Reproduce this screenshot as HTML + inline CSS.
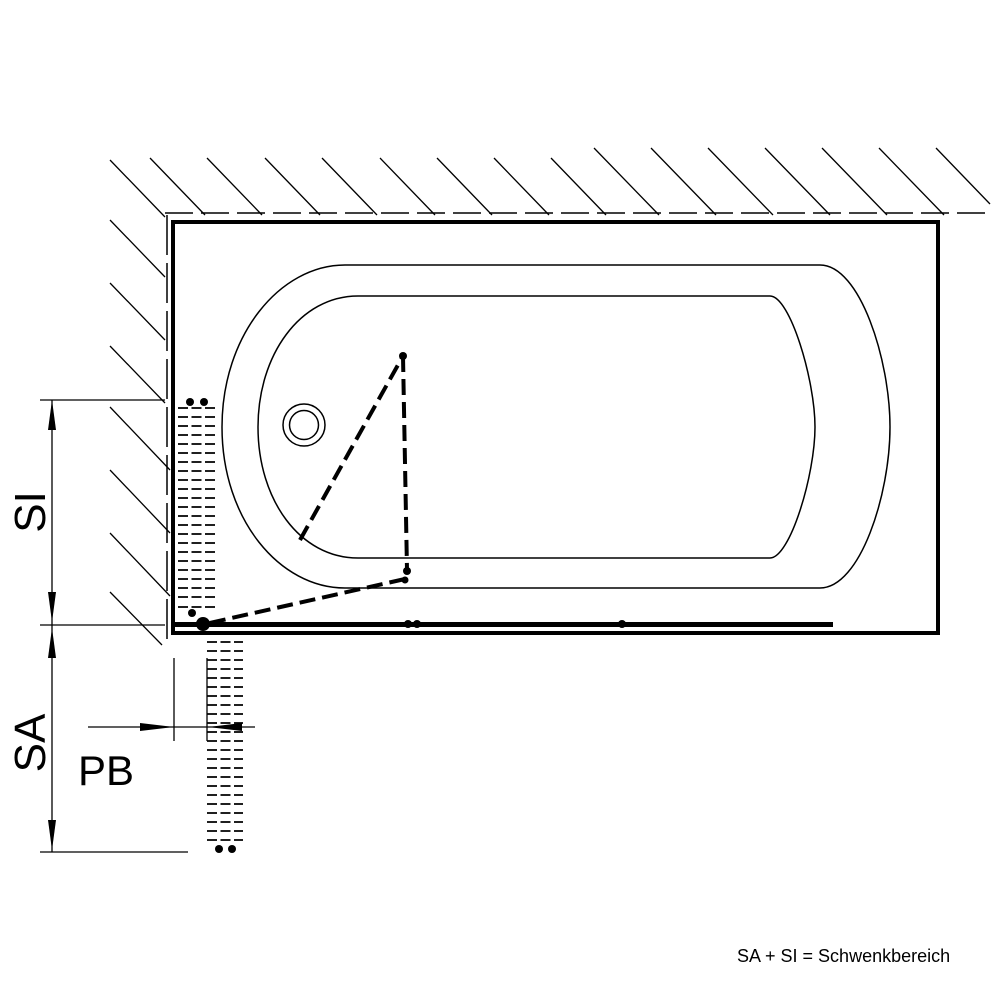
<!DOCTYPE html>
<html><head><meta charset="utf-8"><style>html,body{margin:0;padding:0;background:#fff}svg{display:block}</style></head>
<body>
<svg width="1000" height="1000" viewBox="0 0 1000 1000" xmlns="http://www.w3.org/2000/svg">
<g stroke="#000" stroke-width="1.3" fill="none">
<line x1="150" y1="158" x2="205" y2="215"/>
<line x1="207" y1="158" x2="262" y2="215"/>
<line x1="265" y1="158" x2="320" y2="215"/>
<line x1="322" y1="158" x2="377" y2="215"/>
<line x1="380" y1="158" x2="435" y2="215"/>
<line x1="437" y1="158" x2="492" y2="215"/>
<line x1="494" y1="158" x2="549" y2="215"/>
<line x1="551" y1="158" x2="606" y2="215"/>
<line x1="594" y1="148" x2="659" y2="215"/>
<line x1="651" y1="148" x2="716" y2="215"/>
<line x1="708" y1="148" x2="773" y2="215"/>
<line x1="765" y1="148" x2="830" y2="215"/>
<line x1="822" y1="148" x2="887" y2="215"/>
<line x1="879" y1="148" x2="944" y2="215"/>
<line x1="936" y1="148" x2="990" y2="204"/>
<line x1="110" y1="160" x2="165" y2="217"/>
<line x1="110" y1="220" x2="165" y2="277"/>
<line x1="110" y1="283" x2="165" y2="340"/>
<line x1="110" y1="346" x2="165" y2="403"/>
<line x1="110" y1="407" x2="170" y2="470"/>
<line x1="110" y1="470" x2="170" y2="533"/>
<line x1="110" y1="533" x2="170" y2="596"/>
<line x1="110" y1="592" x2="162" y2="645"/>
<line x1="165" y1="213" x2="992" y2="213" stroke-dasharray="28,8" stroke-width="1.5"/>
<line x1="167" y1="215" x2="167" y2="645" stroke-dasharray="40,8" stroke-width="1.5"/>
</g>
<rect x="173" y="222" width="765" height="411" fill="none" stroke="#000" stroke-width="4"/>
<g fill="none" stroke="#000" stroke-width="1.5">
<path d="M345 265 L820 265 C860 265 890 360 890 427 C890 495 860 588 820 588 L345 588 C280 588 222 520 222 427 C222 335 280 265 345 265 Z"/>
<path d="M358 296 L770 296 C790 296 815 380 815 427 C815 475 790 558 770 558 L358 558 C300 558 258 500 258 427 C258 355 300 296 358 296 Z"/>
<circle cx="304" cy="425" r="21"/>
<circle cx="304" cy="425" r="14.5"/>
</g>
<g stroke="#000" stroke-width="4" fill="none" stroke-dasharray="16,7">
<line x1="300" y1="540" x2="403" y2="356"/>
<line x1="403" y1="356" x2="407" y2="570"/>
<line x1="405" y1="579" x2="205" y2="624"/>
</g>
<g fill="#000">
<circle cx="403" cy="356" r="4"/>
<circle cx="407" cy="571" r="4"/>
<circle cx="405" cy="580" r="3.5"/>
</g>
<rect x="173" y="622" width="660" height="5" fill="#000"/>
<g fill="#000">
<circle cx="203" cy="624" r="7"/>
<circle cx="408" cy="624" r="4"/>
<circle cx="417" cy="624" r="4"/>
<circle cx="622" cy="624" r="4"/>
<circle cx="190" cy="402" r="4"/>
<circle cx="204" cy="402" r="4"/>
<circle cx="192" cy="613" r="4"/>
<circle cx="219" cy="849" r="4"/>
<circle cx="232" cy="849" r="4"/>
</g>
<g stroke="#000" stroke-width="1.8" stroke-dasharray="10,3.5">
<path d="M178 408H215M178 417H215M178 426H215M178 435H215M178 444H215M178 453H215M178 462H215M178 471H215M178 480H215M178 489H215M178 498H215M178 507H215M178 516H215M178 525H215M178 534H215M178 543H215M178 552H215M178 561H215M178 570H215M178 579H215M178 588H215M178 597H215M178 607H215"/>
<path d="M207 642H243M207 651H243M207 660H243M207 669H243M207 678H243M207 687H243M207 696H243M207 705H243M207 714H243M207 723H243M207 732H243M207 741H243M207 750H243M207 759H243M207 768H243M207 777H243M207 786H243M207 795H243M207 804H243M207 813H243M207 822H243M207 831H243M207 840H243"/>
</g>
<g stroke="#000" stroke-width="1.3" fill="none">
<line x1="40" y1="400" x2="165" y2="400"/>
<line x1="40" y1="625" x2="165" y2="625"/>
<line x1="40" y1="852" x2="188" y2="852"/>
<line x1="52" y1="400" x2="52" y2="852"/>
<line x1="88" y1="727" x2="255" y2="727"/>
<line x1="174" y1="658" x2="174" y2="741"/>
<line x1="207" y1="658" x2="207" y2="741"/>
</g>
<g fill="#000">
<polygon points="52,400 48,430 56,430"/>
<polygon points="52,622 48,592 56,592"/>
<polygon points="52,628 48,658 56,658"/>
<polygon points="52,850 48,820 56,820"/>
<polygon points="174,727 140,723 140,731"/>
<polygon points="208,727 242,723 242,731"/>
</g>
<g font-family="Liberation Sans, sans-serif" fill="#000">
<text transform="translate(45,512) rotate(-90)" text-anchor="middle" font-size="44">SI</text>
<text transform="translate(45,743) rotate(-90)" text-anchor="middle" font-size="44">SA</text>
<text x="78" y="785" font-size="42">PB</text>
<text x="737" y="962" font-size="18">SA + SI = Schwenkbereich</text>
</g>
</svg>
</body></html>
